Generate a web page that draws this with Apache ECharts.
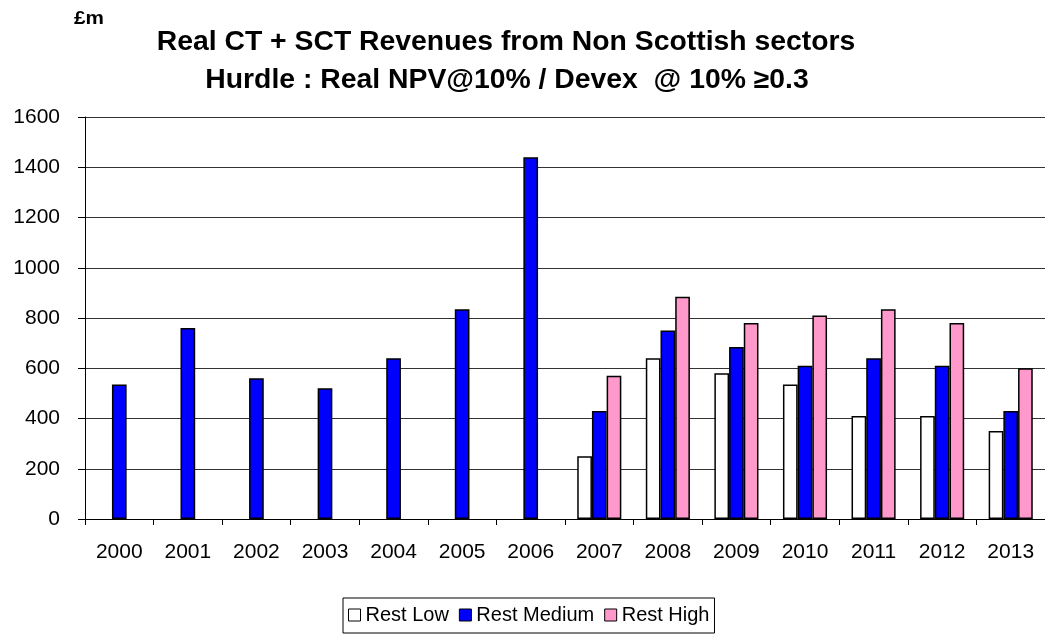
<!DOCTYPE html>
<html>
<head>
<meta charset="utf-8">
<script src="https://cdn.jsdelivr.net/npm/echarts@6/dist/echarts.min.js"></script>
<style>
html,body{margin:0;padding:0;background:#fff;}
#chart{width:1045px;height:636px;}
</style>
</head>
<body>
<div id="chart"></div>
<script>
const categories = ['2000','2001','2002','2003','2004','2005','2006','2007','2008','2009','2010','2011','2012','2013'];
const restLow    = [null,null,null,null,null,null,null,250,640,580,535,410,410,350];
const restMedium = [535,760,560,520,640,835,1440,430,750,685,610,640,610,430];
const restHigh   = [null,null,null,null,null,null,null,570,885,780,810,835,780,600];
const yTicks = [0,200,400,600,800,1000,1200,1400,1600];
const titleLine1 = 'Real CT + SCT Revenues from Non Scottish sectors';
const titleLine2 = 'Hurdle : Real NPV@10% / Devex  @ 10% \u22650.3';
const unitLabel = '\u00a3m';

const FONT = 'Arial, "Liberation Sans", Helvetica, sans-serif';
const chart = echarts.init(document.getElementById('chart'));

function barSeries(name, data, color) {
  return {
    name: name,
    type: 'bar',
    data: data,
    barWidth: 14.7,
    barGap: '0%',
    itemStyle: { color: color, borderColor: '#000', borderWidth: 1.5 },
    emphasis: { disabled: true }
  };
}

chart.setOption({
  animation: false,
  backgroundColor: '#fff',
  textStyle: { fontFamily: FONT },
  grid: { left: 85, width: 963, top: 117, bottom: 117, containLabel: false },
  graphic: [
    { type: 'text', x: 506, y: 43, scaleX: 1.05, scaleY: 1,
      style: { text: titleLine1, font: 'bold 27px ' + FONT, fill: '#000', textAlign: 'center', textVerticalAlign: 'middle' } },
    { type: 'text', x: 507, y: 80.5, scaleX: 1.05, scaleY: 1,
      style: { text: titleLine2, font: 'bold 27px ' + FONT, fill: '#000', textAlign: 'center', textVerticalAlign: 'middle' } },
    { type: 'text', x: 74, y: 18.7, scaleX: 1.15, scaleY: 1,
      style: { text: unitLabel, font: 'bold 18px ' + FONT, fill: '#000', textAlign: 'left', textVerticalAlign: 'middle' } }
  ],
  legend: {
    left: 343, top: 598,
    orient: 'horizontal',
    itemWidth: 12, itemHeight: 12, itemGap: 10,
    icon: 'rect',
    padding: [7, 5, 8, 5],
    borderColor: '#000', borderWidth: 1,
    itemStyle: { borderColor: '#000', borderWidth: 1 },
    textStyle: { fontSize: 20, color: '#000', fontFamily: FONT },
    data: ['Rest Low', 'Rest Medium', 'Rest High']
  },
  xAxis: {
    type: 'category',
    data: categories,
    axisLine: { lineStyle: { color: '#000', width: 1 } },
    axisTick: { show: true, alignWithLabel: false, length: 6, lineStyle: { color: '#000' } },
    axisLabel: { fontSize: 21, color: '#000', margin: 23, fontFamily: FONT, interval: 0 },
    splitLine: { show: false }
  },
  yAxis: {
    type: 'value',
    min: yTicks[0], max: yTicks[yTicks.length - 1], interval: 200,
    axisLine: { show: true, lineStyle: { color: '#000', width: 1 } },
    axisTick: { show: true, inside: false, length: 7, lineStyle: { color: '#000' } },
    axisLabel: { fontSize: 21, color: '#000', margin: 25, fontFamily: FONT, formatter: function (v) { return String(v); } },
    splitLine: { show: true, lineStyle: { color: '#333', width: 1 } }
  },
  series: [
    barSeries('Rest Low', restLow, '#FFFFFF'),
    barSeries('Rest Medium', restMedium, '#0000FF'),
    barSeries('Rest High', restHigh, '#FF99CC')
  ]
});
</script>
</body>
</html>
